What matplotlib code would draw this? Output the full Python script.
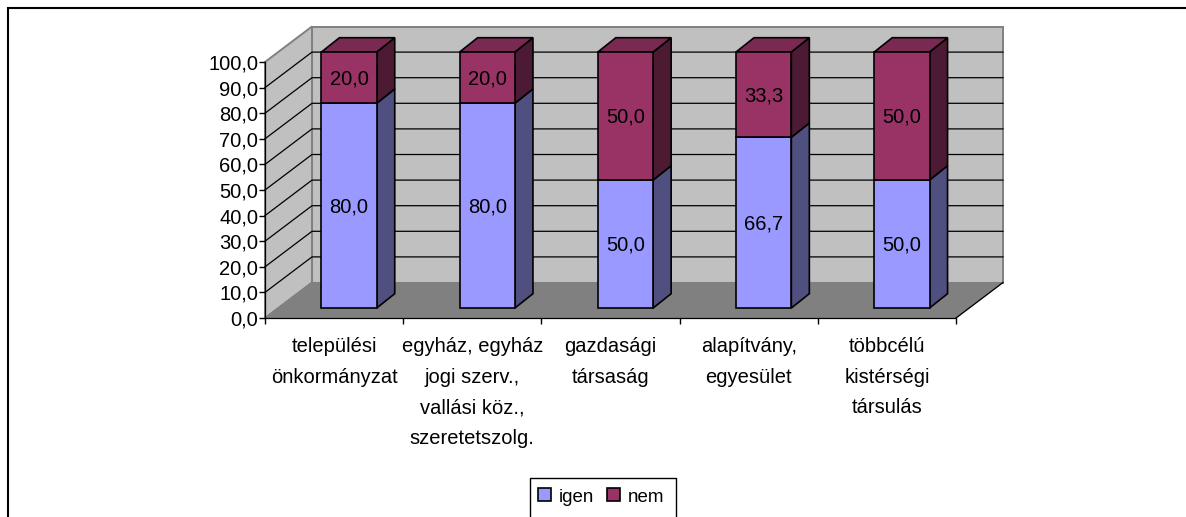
import matplotlib
matplotlib.use("Agg")
import matplotlib.pyplot as plt
from matplotlib.patches import Polygon, Rectangle

categories = ["települési\nönkormányzat", "egyház, egyház\njogi szerv.,\nvallási köz.,\nszeretetszolg.",
              "gazdasági\ntársaság", "alapítvány,\negyesület", "többcélú\nkistérségi\ntársulás"]
igen = [80.0, 80.0, 50.0, 66.7, 50.0]
nem = [20.0, 20.0, 50.0, 33.3, 50.0]
yticks = list(range(0, 101, 10))
series_names = ["igen", "nem"]

plt.rcParams["font.family"] = ["Liberation Sans", "DejaVu Sans"]
FS = 14.5

W, H = 1186, 517
fig = plt.figure(figsize=(W/100, H/100), dpi=100, facecolor="white")

def box(ax_px):
    l, t, r, b = ax_px
    return [l/W, 1-b/H, (r-l)/W, (b-t)/H]

# outer chart frame (cut by the image on the right and at the bottom)
bg = fig.add_axes([0, 0, 1, 1], zorder=0)
bg.set_xlim(0, W); bg.set_ylim(H, 0); bg.axis("off")
bg.plot([8, 8, W+5], [H+5, 7.5, 7.5], color="black", lw=1.5, solid_joinstyle="miter")
# legend box, also cut by the bottom edge
bg.plot([529.5, 529.5, 675.5, 675.5], [H+5, 477.5, 477.5, H+5], color="black", lw=1.0)

ax = fig.add_axes(box((265, 62, 956, 318)), zorder=1)
ax.set_xlim(0, 5); ax.set_ylim(0, 100)
ax.patch.set_alpha(0)
for s in ax.spines.values():
    s.set_visible(False)

DX, DY = 47/138.2, 35.5/2.56            # wall depth
BW = 55.3/138.2                         # bar width
BOFF_X, BOFF_Y = 15/138.2, 10/2.56      # bar offset into the floor
BDX, BDY = 18/138.2, 14.3/2.56          # bar depth
GREY = "#808080"

# walls and floor
ax.add_patch(Polygon([(DX, DY), (5+DX, DY), (5+DX, 100+DY), (DX, 100+DY)], fc="#C0C0C0", ec=GREY, lw=1.4, clip_on=False, zorder=1))
ax.add_patch(Polygon([(0, 0), (DX, DY), (DX, 100+DY), (0, 100)], fc="#C0C0C0", ec=GREY, lw=1.4, clip_on=False, zorder=1))
ax.add_patch(Polygon([(0, 0), (5, 0), (5+DX, DY), (DX, DY)], fc=GREY, ec=GREY, lw=0.8, clip_on=False, zorder=1))

# gridlines
for v in yticks[1:-1]:
    ax.plot([0, DX, 5+DX], [v, v+DY, v+DY], color="black", lw=0.9, clip_on=False, zorder=2)
ax.plot([5, 5+DX], [0, DY], color="black", lw=0.9, clip_on=False, zorder=2)

COL = {"igen": ("#9999FF", "#7A7ACC", "#4F4F80"), "nem": ("#993366", "#7A2952", "#4D1A33")}
for i, (a, b) in enumerate(zip(igen, nem)):
    x0 = i + 0.5 - BW/2 + BOFF_X
    x1 = x0 + BW
    for val, base, name in ((a, 0, "igen"), (b, a, "nem")):
        front, top, side = COL[name]
        y0, y1 = base + BOFF_Y, base + val + BOFF_Y
        ax.add_patch(Polygon([(x1, y0), (x1+BDX, y0+BDY), (x1+BDX, y1+BDY), (x1, y1)], fc=side, ec="black", lw=1.2, clip_on=False, zorder=3, joinstyle="miter"))
        if name == "nem":
            ax.add_patch(Polygon([(x0, y1), (x1, y1), (x1+BDX, y1+BDY), (x0+BDX, y1+BDY)], fc=top, ec="black", lw=1.2, clip_on=False, zorder=3, joinstyle="miter"))
        ax.add_patch(Rectangle((x0, y0), BW, val, fc=front, ec="black", lw=1.2, clip_on=False, zorder=4))
        ax.annotate(f"{val:.1f}".replace(".", ","), xy=((x0+x1)/2, (y0+y1)/2), xytext=(0, -1), textcoords="offset pixels",
                    ha="center", va="center", fontsize=FS, color="black", zorder=5, annotation_clip=False)

# axes ticks
ax.set_yticks(yticks)
ax.set_yticklabels([f"{v:.1f}".replace(".", ",") for v in yticks], fontsize=FS)
ax.set_xticks(range(6))
ax.set_xticklabels([""]*6)
ax.tick_params(axis="y", length=4, width=1, pad=1)
ax.tick_params(axis="x", length=4, width=1)
ax.plot([0, 0], [0, 100], color="black", lw=0.9, clip_on=False, zorder=2)
ax.plot([0, 5], [0, 0], color="black", lw=0.9, clip_on=False, zorder=6)
for i, c in enumerate(categories):
    ax.annotate(c, xy=(i+0.5, 0), xytext=(0, -19), textcoords="offset pixels", ha="center", va="top",
                fontsize=FS, linespacing=1.78, annotation_clip=False)

# legend
handles = [Rectangle((0, 0), 1, 1, fc=COL[n][0], ec="black", lw=1.2) for n in series_names]
fig.legend(handles, series_names, loc="center left", bbox_to_anchor=(538/W, 1-497/H), ncol=2,
           fontsize=13.5, frameon=False, handlelength=0.68, handleheight=0.68, handletextpad=0.42,
           columnspacing=0.7, borderpad=0, borderaxespad=0)

fig.savefig("out.png", dpi=100, facecolor="white")
